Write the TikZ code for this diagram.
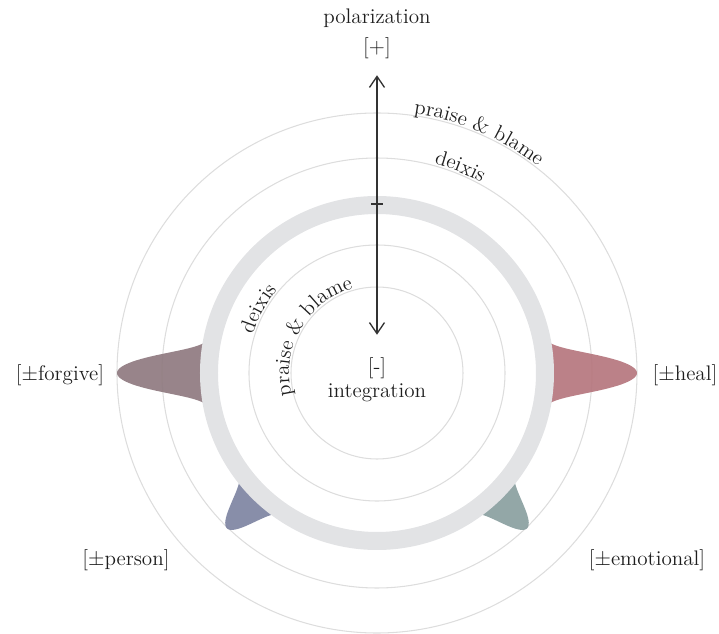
\documentclass[tikz,border=0pt]{standalone}
\usepackage{amsmath}
\usepackage{amssymb}
\usetikzlibrary{arrows.meta,decorations.text}

\definecolor{ringgray}{HTML}{E2E3E5}
\definecolor{circgray}{HTML}{DDDDDD}
\definecolor{healcol}{HTML}{B5767E}
\definecolor{forgivecol}{HTML}{8F7A80}
\definecolor{personcol}{HTML}{7E84A2}
\definecolor{emocol}{HTML}{8A9FA0}
\definecolor{txt}{HTML}{1E1E1E}
\definecolor{arrowcol}{HTML}{333333}

\newcommand{\lblfont}{\fontsize{12}{14}\selectfont}
% bump on the ring: angle, height, spread, colour
\newcommand{\spike}[4]{%
  \fill[#4, fill opacity=0.92] plot[domain=-14:14, samples=70, variable=\t]
    ({#1+\t}:{168+#2*exp(-(\t*\t)/#3)}) -- cycle;}

\begin{document}
\begin{tikzpicture}[x=0.2mm, y=0.2mm,
    lbl/.style={font=\lblfont, text=txt},
    axis/.style={{Straight Barb[length=2.2mm,width=3mm]}-{Straight Barb[length=2.2mm,width=3mm]},
      line width=0.75pt, draw=arrowcol, shorten <=2.1mm, shorten >=3.3mm},
    arctext/.style={decorate, decoration={text along path, text align=center,
      text={|\lblfont\color{txt}|#1}}}]
    \useasboundingbox (-377,-261) rectangle (342,373);

    % guide circles
    \foreach \r in {86,128,215,260}
      \draw[circgray, line width=0.6pt] (0,0) circle[radius=\r];

    \spike{0}{92}{39}{healcol}
    \spike{180}{92}{39}{forgivecol}
    \spike{226}{48}{32}{personcol}
    \spike{314}{48}{32}{emocol}

    \draw[ringgray, line width=3.6mm] (0,0) circle[radius=168];

    \node[lbl] (pol) at (0,355) {polarization};
    \node[lbl] (plus) [below of = pol, node distance=6mm] {[+]};
    \node[lbl] (minus) at (0,5) {[-]};
    \node[lbl] (int) [below of = minus, node distance=5mm] {integration};
    \node[lbl] (heal) at (308,-2) {[$\pm$heal]};
    \node[lbl] (forgive) at (-317,-2) {[$\pm$forgive]};
    \node[lbl] (person) at (-251,-187) {[$\pm$person]};
    \node[lbl] (emo) at (270,-187) {[$\pm$emotional]};

    \path[draw, axis] (plus) -- (minus);
    \coordinate (tick) at (0,169);
    \draw[arrowcol, line width=0.9pt] ([xshift=-1.2mm]tick) -- ([xshift=1.2mm]tick);

    % curved labels
    \path[arctext={praise {\&} blame}] (84:262) arc[start angle=84, end angle=50, radius=262];
    \path[arctext={deixis}] (80:217) arc[start angle=80, end angle=56, radius=217];
    \path[arctext={deixis}] (170:130) arc[start angle=170, end angle=133, radius=130];
    \path[arctext={praise {\&} blame}] (200:88) arc[start angle=200, end angle=100, radius=88];
\end{tikzpicture}
\end{document}
